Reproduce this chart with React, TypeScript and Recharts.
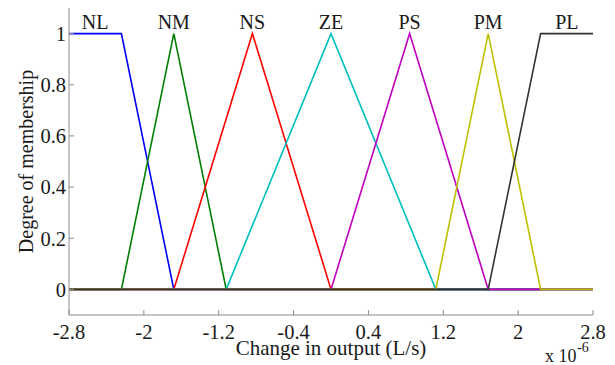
import React from 'react';
import { ComposedChart, Line, XAxis, YAxis, ReferenceDot } from 'recharts';

const xTicks = [-2.8, -2, -1.2, -0.4, 0.4, 1.2, 2, 2.8];
const yTicks = [0, 0.2, 0.4, 0.6, 0.8, 1];

const nlX = [-2.8, -2.24, -1.68, 2.8];
const nlY = [1, 1, 0, 0];
const nmX = [-2.8, -2.24, -1.68, -1.12, 2.8];
const nmY = [0, 0, 1, 0, 0];
const nsX = [-2.8, -1.68, -0.84, 0, 2.8];
const nsY = [0, 0, 1, 0, 0];
const zeX = [-2.8, -1.12, 0, 1.12, 2.8];
const zeY = [0, 0, 1, 0, 0];
const psX = [-2.8, 0, 0.84, 1.68, 2.8];
const psY = [0, 0, 1, 0, 0];
const pmX = [-2.8, 1.12, 1.68, 2.24, 2.8];
const pmY = [0, 0, 1, 0, 0];
const plX = [-2.8, 1.68, 2.24, 2.8];
const plY = [0, 0, 1, 1];

const setNames = ['NL', 'NM', 'NS', 'ZE', 'PS', 'PM', 'PL'];
const setLabelX = [-2.52, -1.68, -0.84, 0, 0.84, 1.68, 2.52];
const setLabelY = 1.045;

const colors = ['#0000ff', '#008000', '#ff0000', '#00bfbf', '#bf00bf', '#bfbf00', '#333333'];

const zip = (xs: number[], ys: number[]) => xs.map((x, i) => ({ x, y: ys[i] }));
const series = [
  zip(nlX, nlY),
  zip(nmX, nmY),
  zip(nsX, nsY),
  zip(zeX, zeY),
  zip(psX, psY),
  zip(pmX, pmY),
  zip(plX, plY),
];

const FONT = '"Liberation Serif", "Times New Roman", serif';
const TXT = '#1a1a1a';
const AX = '#8c8c8c';

export default function App() {
  return (
    <div style={{ position: 'absolute', left: 0, top: 0 }}>
      <ComposedChart
        width={615}
        height={365}
        margin={{ top: 8, right: 22, bottom: 0, left: 9 }}
        style={{ fontFamily: FONT }}
      >
        <XAxis
          type="number"
          dataKey="x"
          domain={[-2.8, 2.8]}
          ticks={xTicks}
          allowDataOverflow
          height={50}
          tickSize={-5}
          tickMargin={14}
          stroke={AX}
          tick={{ fill: TXT, fontSize: 20.5, fontFamily: FONT }}
          label={{
            content: (props: any) => {
              const vb = props.viewBox;
              return (
                <g>
                  <text x={vb.x + vb.width / 2} y={355} textAnchor="middle" fontSize={21} fill={TXT} fontFamily={FONT}>
                    Change in output (L/s)
                  </text>
                  <text x={545} y={362} fontSize={18} fill={TXT} fontFamily={FONT}>
                    x 10
                  </text>
                  <text x={577} y={352} fontSize={14} fill={TXT} fontFamily={FONT}>
                    -6
                  </text>
                </g>
              );
            },
          }}
        />
        <YAxis
          type="number"
          domain={[-0.1, 1.1]}
          ticks={yTicks}
          allowDataOverflow
          width={60}
          tickSize={-5}
          tickMargin={8}
          stroke={AX}
          tick={{ fill: TXT, fontSize: 20.5, fontFamily: FONT }}
          label={{
            content: (props: any) => {
              const vb = props.viewBox;
              const cx = 33;
              const cy = vb.y + vb.height / 2;
              return (
                <text
                  x={cx}
                  y={cy}
                  transform={`rotate(-90, ${cx}, ${cy})`}
                  textAnchor="middle"
                  fontSize={20}
                  fill={TXT}
                  fontFamily={FONT}
                >
                  Degree of membership
                </text>
              );
            },
          }}
        />
        {series.map((d, i) => (
          <Line
            key={setNames[i]}
            data={d}
            dataKey="y"
            type="linear"
            stroke={colors[i]}
            strokeWidth={1.6}
            dot={false}
            activeDot={false}
            isAnimationActive={false}
          />
        ))}
        {setNames.map((n, i) => (
          <ReferenceDot
            key={'lbl' + n}
            x={setLabelX[i]}
            y={setLabelY}
            r={0}
            fill="none"
            stroke="none"
            label={{ value: n, position: 'center', fontSize: 20, fill: TXT, fontFamily: FONT }}
          />
        ))}
      </ComposedChart>
    </div>
  );
}
